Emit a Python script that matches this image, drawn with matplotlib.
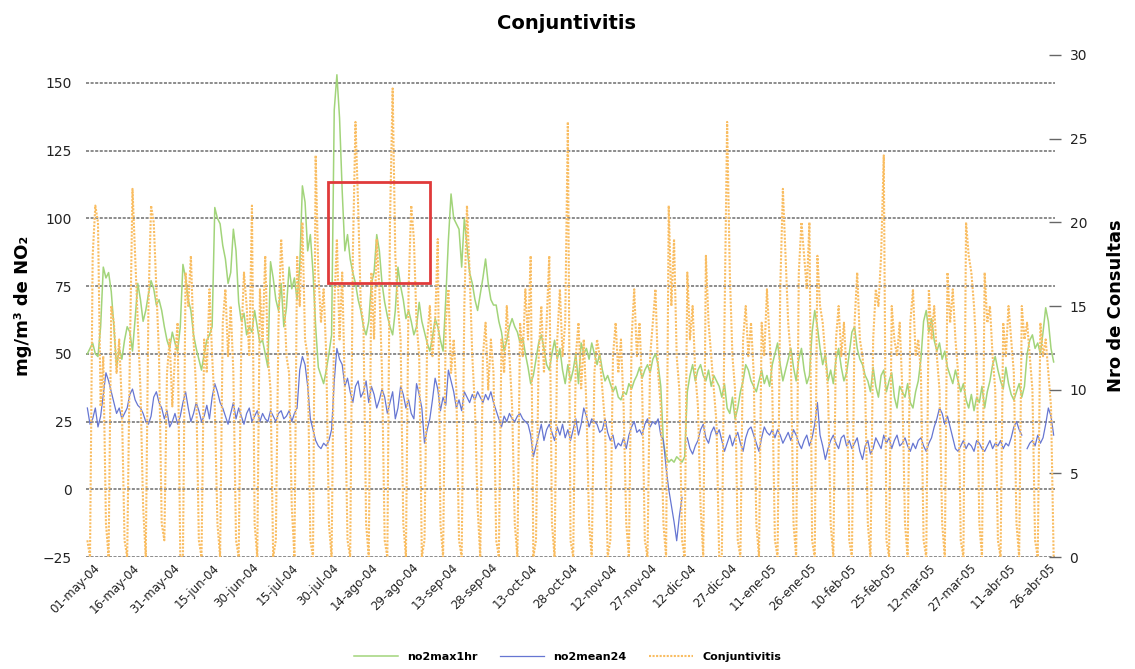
import matplotlib
matplotlib.use("Agg")
import matplotlib.pyplot as plt
import matplotlib.patches as patches
import matplotlib.transforms as transforms
import numpy as np

# etiquetas del eje x (cada 15 dias desde 01-may-04)
tick_labels = ["01-may-04", "16-may-04", "31-may-04", "15-jun-04", "30-jun-04",
               "15-jul-04", "30-jul-04", "14-ago-04", "29-ago-04", "13-sep-04",
               "28-sep-04", "13-oct-04", "28-oct-04", "12-nov-04", "27-nov-04",
               "12-dic-04", "27-dic-04", "11-ene-05", "26-ene-05", "10-feb-05",
               "25-feb-05", "12-mar-05", "27-mar-05", "11-abr-05", "26-abr-05"]

# valores diarios, una fila por semana (sab..vie), 01-may-04 a 30-abr-05
no2max1hr = [
    50, 52, 54, 50, 49, 60, 82,
    78, 80, 73, 60, 45, 52, 48,
    55, 60, 58, 51, 63, 76, 70,
    62, 66, 72, 77, 74, 68, 70,
    66, 60, 55, 52, 58, 54, 51,
    60, 83, 78, 70, 66, 57, 52,
    48, 44, 50, 55, 57, 60, 104,
    100, 98, 90, 85, 76, 80, 96,
    88, 69, 62, 65, 57, 60, 58,
    66, 60, 54, 55, 50, 45, 84,
    78, 70, 66, 76, 60, 67, 82,
    74, 78, 70, 82, 112, 106, 88,
    94, 80, 60, 45, 42, 39, 44,
    50, 57, 140, 153, 137, 110, 88,
    94, 85, 80, 76, 70, 66, 60,
    57, 62, 76, 80, 94, 88, 76,
    69, 64, 60, 57, 66, 82, 75,
    70, 63, 66, 62, 57, 60, 69,
    62, 58, 54, 51, 56, 63, 60,
    55, 51, 70, 92, 109, 100, 98,
    96, 82, 100, 90, 80, 76, 70,
    66, 72, 78, 85, 76, 70, 68,
    68, 62, 58, 51, 55, 60, 63,
    60, 58, 54, 56, 50, 45, 39,
    42, 48, 54, 57, 52, 46, 44,
    50, 55, 48, 52, 44, 39, 46,
    40, 44, 50, 39, 54, 50, 52,
    48, 54, 50, 46, 50, 44, 40,
    42, 39, 36, 38, 34, 33, 36,
    35, 39, 37, 40, 42, 45, 41,
    44, 46, 43, 48, 50, 46, 38,
    17, 12, 10, 11, 10, 12, 11,
    10, 12, 36, 42, 46, 40, 44,
    46, 42, 40, 44, 38, 42, 40,
    38, 34, 39, 30, 28, 34, 26,
    30, 36, 40, 46, 44, 40, 38,
    36, 40, 44, 39, 42, 38, 46,
    50, 54, 46, 40, 44, 48, 52,
    45, 40, 48, 52, 44, 39, 42,
    58, 66, 60, 52, 46, 50, 40,
    44, 39, 48, 52, 45, 40, 43,
    50, 58, 60, 52, 48, 46, 42,
    40, 36, 45, 38, 34, 42, 44,
    36, 40, 43, 34, 30, 38, 36,
    34, 39, 32, 30, 36, 40, 48,
    62, 66, 58, 63, 55, 51, 54,
    48, 51, 45, 42, 39, 44, 40,
    36, 39, 33, 30, 35, 29, 34,
    32, 38, 30, 36, 40, 46, 49,
    44, 40, 37, 45, 39, 35, 33,
    36, 39, 34, 38, 50, 55, 57,
    52, 54, 50, 58, 67, 62, 52,
    47]

nan = np.nan
no2mean24 = [
    30, 24, 26, 30, 23, 27, 35,
    43, 40, 36, 32, 28, 30, 26,
    28, 30, 35, 37, 33, 31, 30,
    28, 25, 24, 27, 34, 36, 32,
    30, 26, 29, 23, 25, 28, 24,
    27, 32, 36, 30, 25, 28, 32,
    29, 25, 27, 31, 26, 34, 39,
    36, 32, 30, 27, 24, 28, 32,
    26, 30, 27, 24, 28, 30, 25,
    27, 29, 25, 28, 26, 25, 29,
    27, 25, 28, 29, 26, 27, 29,
    25, 28, 30, 44, 49, 46, 38,
    26, 22, 18, 16, 15, 17, 16,
    18, 22, 40, 52, 48, 46, 38,
    41, 36, 32, 38, 40, 34, 36,
    40, 32, 38, 35, 30, 33, 37,
    34, 28, 32, 36, 26, 30, 38,
    35, 30, 33, 28, 26, 39, 35,
    30, 17, 22, 26, 33, 41, 37,
    29, 34, 31, 44, 40, 36, 30,
    33, 29, 36, 34, 32, 35, 33,
    36, 34, 32, 35, 33, 36, 32,
    29, 26, 23, 27, 25, 28, 26,
    25, 27, 28, 26, 25, 24, 20,
    12, 16, 20, 24, 18, 22, 24,
    21, 18, 23, 20, 24, 19, 22,
    18, 22, 26, 20, 24, 30, 27,
    23, 26, 25, 24, 21, 22, 26,
    21, 18, 20, 15, 17, 16, 19,
    15, 20, 23, 25, 21, 22, 20,
    24, 26, 23, 25, 24, 26, 20,
    18, 8, 0, -6, -12, -19, -10,
    -3, nan, 19, 15, 13, 16, 18,
    22, 24, 19, 17, 21, 23, 20,
    22, 18, 14, 17, 20, 16, 19,
    21, 17, 14, 19, 22, 23, 20,
    17, 14, 19, 23, 21, 20, 22,
    19, 22, 20, 17, 19, 21, 18,
    22, 20, 17, 15, 18, 20, 16,
    19, 24, 32, 20, 16, 11, 15,
    18, 20, 17, 15, 19, 20, 16,
    18, 15, 17, 19, 14, 11, 16,
    18, 13, 15, 19, 17, 15, 20,
    17, 19, 15, 18, 20, 16, 17,
    19, 16, 14, 17, 15, 18, 19,
    16, 14, 17, 19, 23, 26, 30,
    28, 24, 27, 23, 19, 15, 14,
    16, 18, 15, 17, 16, 14, 18,
    17, 15, 14, 16, 18, 15, 17,
    16, 18, 15, 17, 16, 19, 23,
    25, 22, 20, nan, 15, 17, 18,
    16, 20, 17, 19, 24, 30, 27,
    20]

conjuntivitis = [
    1, 0, 18, 21, 20, 9, 12,
    2, 0, 15, 14, 11, 13, 9,
    1, 0, 12, 22, 18, 14, 10,
    3, 0, 15, 21, 20, 16, 12,
    2, 1, 11, 13, 9, 12, 14,
    0, 0, 17, 15, 18, 13, 10,
    1, 0, 13, 11, 16, 12, 9,
    2, 0, 14, 16, 12, 15, 11,
    1, 0, 13, 17, 15, 12, 21,
    2, 0, 16, 13, 18, 12, 10,
    0, 1, 14, 19, 16, 12, 11,
    3, 0, 18, 15, 20, 13, 12,
    1, 0, 24, 17, 14, 16, 12,
    2, 0, 15, 19, 13, 17, 10,
    1, 0, 18, 26, 21, 15, 14,
    2, 0, 17, 13, 19, 16, 11,
    1, 0, 20, 28, 18, 15, 13,
    2, 0, 16, 21, 19, 14, 12,
    0, 1, 13, 15, 12, 14, 19,
    2, 0, 14, 16, 11, 13, 10,
    1, 0, 15, 21, 17, 12, 9,
    3, 0, 12, 14, 10, 13, 11,
    1, 0, 13, 11, 15, 12, 9,
    2, 0, 14, 12, 16, 13, 18,
    0, 1, 12, 15, 11, 14, 18,
    2, 0, 13, 16, 12, 14, 26,
    1, 0, 12, 14, 10, 13, 9,
    2, 0, 11, 13, 12, 10, 8,
    0, 1, 12, 14, 11, 13, 9,
    2, 0, 13, 16, 12, 14, 10,
    1, 0, 12, 14, 16, 11, 9,
    2, 0, 21, 15, 19, 12, 10,
    1, 0, 17, 13, 15, 11, 9,
    3, 0, 18, 14, 12, 10, 8,
    0, 0, 14, 26, 17, 12, 10,
    1, 0, 13, 15, 12, 14, 11,
    2, 0, 14, 12, 16, 13, 10,
    1, 0, 16, 22, 18, 14, 12,
    2, 0, 17, 20, 18, 16, 20,
    1, 0, 18, 15, 14, 12, 10,
    2, 0, 13, 15, 12, 14, 11,
    1, 0, 14, 17, 13, 12, 10,
    2, 0, 13, 16, 15, 18, 24,
    1, 0, 15, 13, 12, 14, 10,
    2, 0, 14, 16, 12, 13, 11,
    1, 0, 16, 13, 15, 12, 10,
    2, 0, 17, 14, 16, 13, 11,
    1, 0, 20, 18, 17, 15, 12,
    2, 0, 17, 14, 15, 12, 10,
    1, 0, 14, 12, 15, 13, 11,
    2, 0, 15, 13, 14, 12, 10,
    1, 0, 14, 12, 13, 11, 9,
    0]

dias = np.arange(len(conjuntivitis))

fig = plt.figure(figsize=(11.35, 6.69), dpi=100)
ax = fig.add_axes([0.0758, 0.1674, 0.8537, 0.7504])
ax2 = ax.twinx()

l1, = ax.plot(dias, no2max1hr, color="#A2D47A", lw=1.1, label="no2max1hr")
l2, = ax.plot(dias, no2mean24, color="#6676D2", lw=0.9, label="no2mean24")
l3, = ax2.plot(dias, conjuntivitis, color="#F9BD62", lw=1.5, ls=(0, (1, 0.7)),
               label="Conjuntivitis")

ax.set_xlim(-0.5, len(dias) - 0.5)
ax.set_ylim(-25, 160.3)
ax2.set_ylim(0, 30)

ax.set_yticks(range(-25, 151, 25))
ax.grid(axis="y", color="#6e6e6e", ls=(0, (2, 1)), lw=1.1)
ax.set_axisbelow(True)
for a in (ax, ax2):
    for s in a.spines.values():
        s.set_visible(False)

ax.tick_params(axis="y", length=0, pad=10, labelsize=10, labelcolor="#222222")
ax2.set_yticks(range(0, 31, 5))
ax2.tick_params(axis="y", direction="inout", length=9, width=1, color="#666666",
                pad=6, labelsize=10, labelcolor="#222222")

ax.set_xticks(dias[::15])
ax.set_xticklabels(tick_labels, rotation=45, ha="right", fontsize=8.5, color="#222222")
ax.tick_params(axis="x", length=0, pad=3)
desplaza = transforms.ScaledTranslation(15 / 100, 0, fig.dpi_scale_trans)
for lab in ax.get_xticklabels():
    lab.set_transform(lab.get_transform() + desplaza)

ax.set_ylabel("mg/m³ de NO₂", fontsize=13, fontweight="bold", labelpad=8)
ax2.set_ylabel("Nro de Consultas", fontsize=13, fontweight="bold", labelpad=14)
fig.text(0.499, 0.965, "Conjuntivitis", ha="center", va="center",
         fontsize=14, fontweight="bold")

# recuadro rojo del periodo destacado (ejes izquierdos)
rect = patches.Rectangle((90.7, 76.2), 38.3, 37.2, fill=False,
                         edgecolor="#E03A3A", lw=2, transform=ax.transData, zorder=5)
ax2.add_patch(rect)

fig.legend([l1, l2, l3], ["no2max1hr", "no2mean24", "Conjuntivitis"],
           loc="lower center", bbox_to_anchor=(0.5, -0.005), ncol=3,
           frameon=False, handlelength=4, columnspacing=2,
           prop={"weight": "bold", "size": 8})

fig.savefig("out.png", dpi=100)
